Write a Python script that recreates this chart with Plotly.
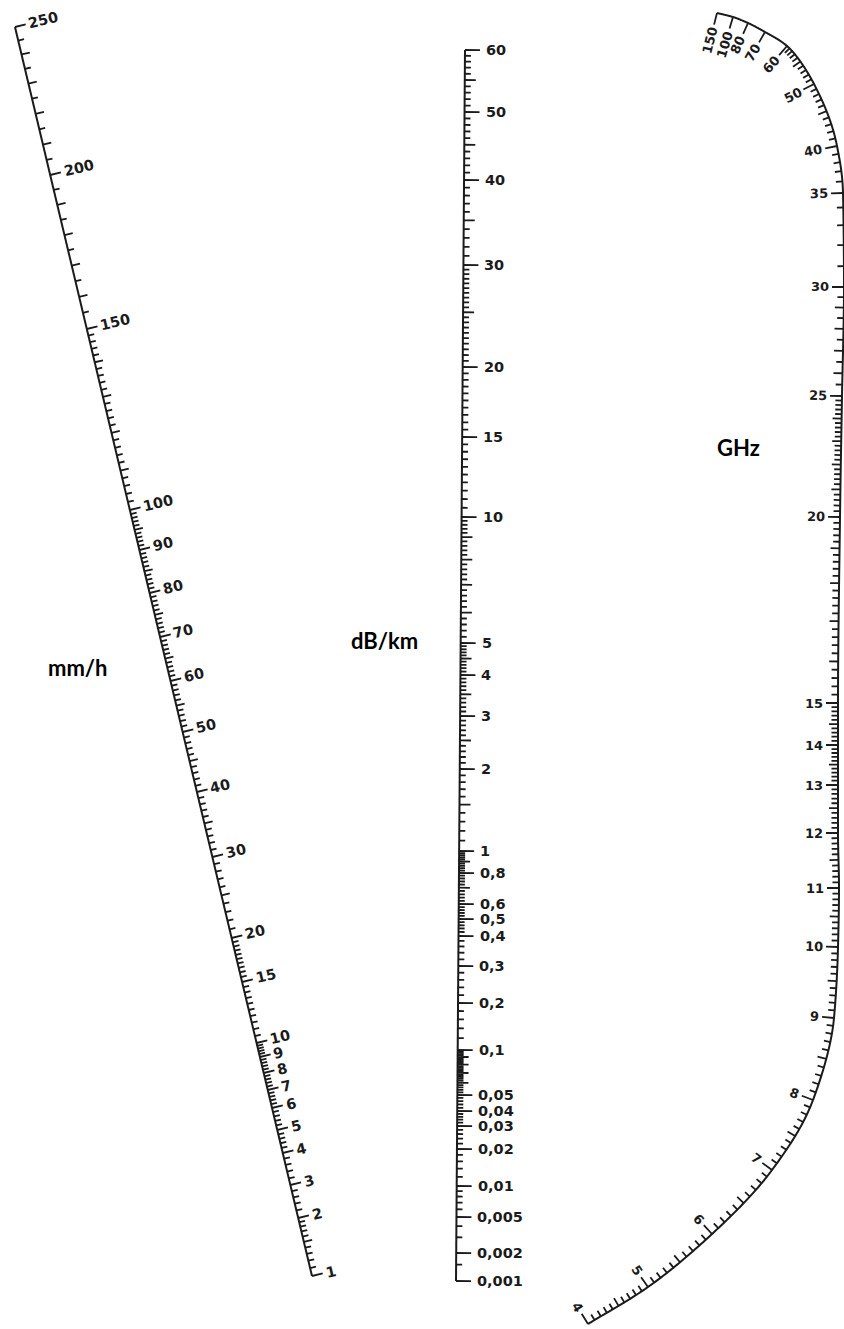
import numpy as np
import plotly.graph_objects as go

# ---------------------------------------------------------------------------
# Scale values
# ---------------------------------------------------------------------------
# Rain rate (mm/h): labelled graduations and minor graduation runs
rain_labels = [250, 200, 150, 100, 90, 80, 70, 60, 50, 40, 30, 20, 15,
               10, 9, 8, 7, 6, 5, 4, 3, 2, 1]
# (from, to, step, longer-tick multiple)
rain_minor = [(1, 2, 0.1, 0.5), (2, 10, 0.2, 1), (10, 20, 0.5, 5),
              (20, 100, 1, 5), (100, 150, 2, 10), (150, 250, 5, 10)]

# Specific attenuation (dB/km)
atten_labels = [60, 50, 40, 30, 20, 15, 10, 5, 4, 3, 2, 1, 0.8, 0.6, 0.5,
                0.4, 0.3, 0.2, 0.1, 0.05, 0.04, 0.03, 0.02, 0.01, 0.005,
                0.002, 0.001]
atten_text = ["60", "50", "40", "30", "20", "15", "10", "5", "4", "3", "2",
              "1", "0,8", "0,6", "0,5", "0,4", "0,3", "0,2", "0,1", "0,05",
              "0,04", "0,03", "0,02", "0,01", "0,005", "0,002", "0,001"]
atten_minor = [(0.001, 0.002, 0.0005, 1), (0.002, 0.01, 0.001, 1),
               (0.01, 0.1, 0.002, 0.01), (0.1, 1, 0.02, 0.1),
               (1, 5, 0.1, 0.5), (5, 10, 0.2, 1), (10, 30, 0.5, 5),
               (30, 60, 1, 5)]

# Frequency (GHz)
freq_labels = [150, 100, 80, 70, 60, 50, 40, 35, 30, 25, 20, 15, 14, 13,
               12, 11, 10, 9, 8, 7, 6, 5, 4]
freq_minor = [(4, 15, 0.1, 0.5), (15, 25, 0.2, 1), (25, 30, 0.5, 1),
              (30, 60, 1, 5)]

# ---------------------------------------------------------------------------
# Scale geometry (canvas pixels, y downwards)
# ---------------------------------------------------------------------------
W, H = 844, 1329

RAIN_END_TOP = (15.0, 27.0)
RAIN_END_BOT = (312.0, 1276.0)
rain_geom_y = [27, 175, 329, 510, 550, 593, 637, 681, 732, 792, 857, 938,
               982, 1043, 1057, 1073, 1090, 1108, 1130, 1153, 1185, 1218,
               1276]

ATTEN_END_TOP = (465.0, 50.0)
ATTEN_END_BOT = (456.0, 1281.0)
atten_geom_y = [50, 112, 180, 265, 367, 437, 517, 643, 675, 716, 769, 851,
                873, 904, 919, 936, 966, 1003, 1050, 1095, 1111, 1126, 1149,
                1186, 1217, 1253, 1281]

freq_geom_x = [717, 733, 748, 765, 787, 814, 837, 843, 844, 842, 840, 838,
               838, 838, 838, 839, 838, 834, 813, 772, 712, 648, 588]
freq_geom_y = [13, 17, 23, 32, 46, 84, 146, 193, 287, 396, 517, 703, 745,
               785, 833, 888, 947, 1018, 1100, 1170, 1234, 1287, 1324]

INK = "#1b1b1b"
NUM_FONT = "DejaVu Sans"
TICK_WIDTH = 1.8
AXIS_WIDTH = 2.0


# ---------------------------------------------------------------------------
# Helpers
# ---------------------------------------------------------------------------
def pchip_slopes(x, y):
    h = np.diff(x)
    d = np.diff(y) / h
    m = np.zeros_like(y)
    for k in range(1, len(y) - 1):
        if d[k - 1] * d[k] <= 0:
            m[k] = 0.0
        else:
            w1 = 2 * h[k] + h[k - 1]
            w2 = h[k] + 2 * h[k - 1]
            m[k] = (w1 + w2) / (w1 / d[k - 1] + w2 / d[k])
    m[0] = d[0]
    m[-1] = d[-1]
    return m


class Interp:
    """Monotone cubic interpolation of a coordinate against log10(value)."""

    def __init__(self, values, coords):
        u = np.log10(np.asarray(values, float))
        c = np.asarray(coords, float)
        order = np.argsort(u)
        self.u = u[order]
        self.c = c[order]
        self.m = pchip_slopes(self.u, self.c)

    def __call__(self, v):
        uq = np.log10(np.atleast_1d(np.asarray(v, float)))
        i = np.clip(np.searchsorted(self.u, uq) - 1, 0, len(self.u) - 2)
        h = self.u[i + 1] - self.u[i]
        t = (uq - self.u[i]) / h
        h00 = 2 * t**3 - 3 * t**2 + 1
        h10 = t**3 - 2 * t**2 + t
        h01 = -2 * t**3 + 3 * t**2
        h11 = t**3 - t**2
        return (h00 * self.c[i] + h10 * h * self.m[i]
                + h01 * self.c[i + 1] + h11 * h * self.m[i + 1])


def minor_values(runs, labelled):
    out = []
    lab = np.asarray(labelled, float)
    for a, b, step, mult in runs:
        n = int(round((b - a) / step))
        for k in range(n + 1):
            v = round(a + k * step, 6)
            if np.any(np.isclose(lab, v, rtol=1e-6, atol=1e-9)):
                continue
            if any(abs(v - o) < 1e-9 for o, _ in out):
                continue
            q = v / mult
            is_mid = abs(q - round(q)) < 1e-6
            out.append((v, is_mid))
    return out


def text_width(s, size):
    w = 0.0
    for ch in s:
        w += 0.38 if ch in ",." else 0.696
    return w * size


# graduation strokes collected as SVG path commands (data coordinates)
tick_paths = {"rain": [], "atten": [], "freq": []}
annotations = []


def add_tick(key, p, n, length):
    q = p + n * length
    tick_paths[key].append("M%.2f,%.2fL%.2f,%.2f" % (p[0], p[1], q[0], q[1]))


# ---------------------------------------------------------------------------
# Straight scales (mm/h and dB/km)
# ---------------------------------------------------------------------------
def straight_scale(key, end_top, end_bot, values, geom_y, texts, runs,
                   lens, size, gap, rotate):
    (x0, y0), (x1, y1) = end_top, end_bot
    d = np.array([x1 - x0, y1 - y0])
    d = d / np.hypot(*d)
    n = np.array([d[1], -d[0]])          # right-hand side of the line
    ymap = Interp(values, geom_y)

    def point(v):
        y = float(ymap(v)[0])
        x = x0 + (y - y0) * (x1 - x0) / (y1 - y0)
        return np.array([x, y])

    line = [point(v) for v in [max(values), min(values)]]
    L_major, L_mid, L_minor = lens
    for v, mid in minor_values(runs, values):
        add_tick(key, point(v), n, L_mid if mid else L_minor)
    ang = float(np.degrees(np.arctan2(n[1], n[0])))
    for v, s in zip(values, texts):
        p = point(v)
        add_tick(key, p, n, L_major)
        font = dict(family=NUM_FONT, size=size, color=INK, weight="bold")
        if rotate:
            w = text_width(s, size)
            c = p + n * (L_major + gap + w / 2)
            annotations.append(dict(
                x=float(c[0]), y=float(c[1]), text=s, showarrow=False,
                textangle=ang, xanchor="center", yanchor="middle",
                font=font))
        else:
            c = p + n * (L_major + gap)
            annotations.append(dict(
                x=float(c[0]), y=float(c[1]), text=s, showarrow=False,
                xanchor="left", yanchor="middle", font=font))
    return line


rain_line = straight_scale("rain", RAIN_END_TOP, RAIN_END_BOT, rain_labels,
                           rain_geom_y, [str(v) for v in rain_labels],
                           rain_minor, (11, 8.5, 6), 14.5, 3, True)
atten_line = straight_scale("atten", ATTEN_END_TOP, ATTEN_END_BOT,
                            atten_labels, atten_geom_y, atten_text,
                            atten_minor, (15, 11, 6), 14.5, 4, False)

# ---------------------------------------------------------------------------
# Curved frequency scale (GHz)
# ---------------------------------------------------------------------------
fx = Interp(freq_labels, freq_geom_x)
fy = Interp(freq_labels, freq_geom_y)


def fpoint(v):
    return np.array([float(fx(v)[0]), float(fy(v)[0])])


def fnormal(v):
    eps = 0.002
    a = fpoint(v * 10**eps)
    b = fpoint(v * 10**-eps)
    d = b - a                              # direction of decreasing value
    d = d / np.hypot(*d)
    return np.array([-d[1], d[0]])         # towards the inside of the curve


curve_v = np.logspace(np.log10(max(freq_labels)), np.log10(min(freq_labels)),
                      900)
curve_x = fx(curve_v)
curve_y = fy(curve_v)

for v, mid in minor_values(freq_minor, freq_labels):
    add_tick("freq", fpoint(v), fnormal(v), 9 if mid else 6.5)

FREQ_SIZE = 13
for v in freq_labels:
    p, n = fpoint(v), fnormal(v)
    add_tick("freq", p, n, 12)
    s = str(v)
    w = text_width(s, FREQ_SIZE)
    c = p + n * (12 + 3 + w / 2)
    ang = float(np.degrees(np.arctan2(-n[1], -n[0])))
    annotations.append(dict(
        x=float(c[0]), y=float(c[1]), text=s, showarrow=False,
        textangle=ang, xanchor="center", yanchor="middle",
        font=dict(family=NUM_FONT, size=FREQ_SIZE, color=INK,
                  weight="bold")))

# ---------------------------------------------------------------------------
# Scale names
# ---------------------------------------------------------------------------
for txt, x, y in [("mm/h", 78, 667), ("dB/km", 384, 640), ("GHz", 738, 447)]:
    annotations.append(dict(
        x=x, y=y, text=txt, showarrow=False, xanchor="center",
        yanchor="middle",
        font=dict(family="Lato", size=22, color="#000000", weight="bold")))

# ---------------------------------------------------------------------------
# Figure
# ---------------------------------------------------------------------------
fig = go.Figure()
line_style = dict(color=INK, width=AXIS_WIDTH, simplify=False)
fig.add_trace(go.Scatter(x=[float(p[0]) for p in rain_line],
                         y=[float(p[1]) for p in rain_line], mode="lines",
                         line=line_style, hoverinfo="skip"))
fig.add_trace(go.Scatter(x=[float(p[0]) for p in atten_line],
                         y=[float(p[1]) for p in atten_line], mode="lines",
                         line=line_style, hoverinfo="skip"))
fig.add_trace(go.Scatter(x=curve_x.tolist(), y=curve_y.tolist(),
                         mode="lines", line=line_style, hoverinfo="skip"))

shapes = [dict(type="path", xref="x", yref="y", path="".join(parts),
               line=dict(color=INK, width=TICK_WIDTH), layer="above")
          for parts in tick_paths.values()]

fig.update_layout(
    width=W, height=H, margin=dict(l=0, r=0, t=0, b=0),
    paper_bgcolor="white", plot_bgcolor="white", showlegend=False,
    xaxis=dict(range=[0, W], visible=False, fixedrange=True),
    yaxis=dict(range=[H, 0], visible=False, fixedrange=True),
    annotations=annotations, shapes=shapes,
)

fig.write_html("out.html")
